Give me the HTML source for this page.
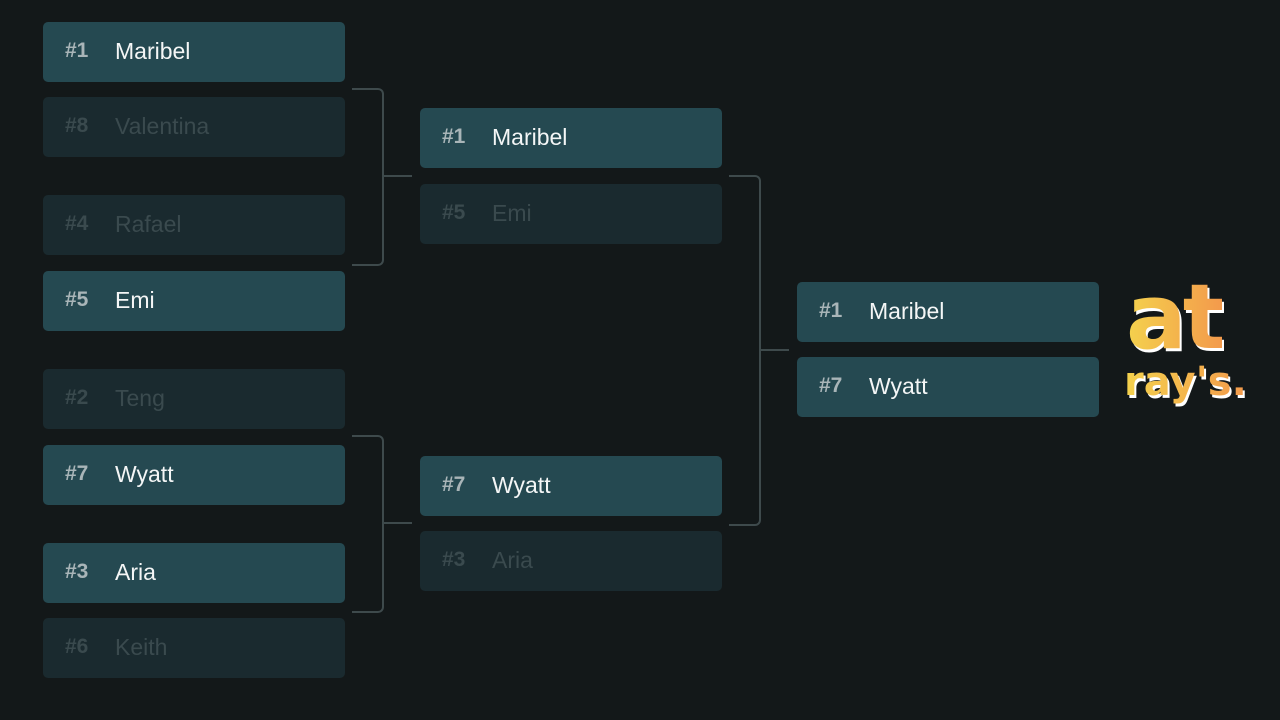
<!DOCTYPE html>
<html><head><style>
body{margin:0;width:1280px;height:720px;background:#131819;position:relative;overflow:hidden;font-family:"Liberation Sans",sans-serif}
.b{position:absolute;width:302px;height:60px;border-radius:5px;background:#254951;box-sizing:border-box;}
.b.d{background:#1a2a2f}
.s{position:absolute;left:22px;top:17px;font-size:21px;color:#a9b5b8;font-weight:bold}
.n{position:absolute;left:72px;top:16px;font-size:23px;color:#f4f6f6}
.d .s{color:#3a4a4e}.d .n{color:#3a4a4e}
.br{position:absolute;border:2px solid #3e4a4c;border-left:none;border-radius:0 6px 6px 0}
.h{position:absolute;height:2px;background:#3e4a4c}
.logo{position:absolute;font-weight:900;font-family:"DejaVu Sans",sans-serif;background:linear-gradient(90deg,#f4d24d,#f39a4c);-webkit-background-clip:text;color:transparent;filter:drop-shadow(2px 3px 0 #fff)}
</style></head><body>
<div class="b" style="left:43px;top:22px"><span class="s">#1</span><span class="n">Maribel</span></div>
<div class="b d" style="left:43px;top:97px"><span class="s">#8</span><span class="n">Valentina</span></div>
<div class="b d" style="left:43px;top:195px"><span class="s">#4</span><span class="n">Rafael</span></div>
<div class="b" style="left:43px;top:271px"><span class="s">#5</span><span class="n">Emi</span></div>
<div class="b d" style="left:43px;top:369px"><span class="s">#2</span><span class="n">Teng</span></div>
<div class="b" style="left:43px;top:445px"><span class="s">#7</span><span class="n">Wyatt</span></div>
<div class="b" style="left:43px;top:543px"><span class="s">#3</span><span class="n">Aria</span></div>
<div class="b d" style="left:43px;top:618px"><span class="s">#6</span><span class="n">Keith</span></div>
<div class="b" style="left:420px;top:108px"><span class="s">#1</span><span class="n">Maribel</span></div>
<div class="b d" style="left:420px;top:184px"><span class="s">#5</span><span class="n">Emi</span></div>
<div class="b" style="left:420px;top:456px"><span class="s">#7</span><span class="n">Wyatt</span></div>
<div class="b d" style="left:420px;top:531px"><span class="s">#3</span><span class="n">Aria</span></div>
<div class="b" style="left:797px;top:282px"><span class="s">#1</span><span class="n">Maribel</span></div>
<div class="b" style="left:797px;top:357px"><span class="s">#7</span><span class="n">Wyatt</span></div>
<div class="br" style="left:352px;top:88px;width:30px;height:174px"></div>
<div class="h" style="left:384px;top:175px;width:28px"></div>
<div class="br" style="left:352px;top:435px;width:30px;height:174px"></div>
<div class="h" style="left:384px;top:522px;width:28px"></div>
<div class="br" style="left:729px;top:175px;width:30px;height:347px"></div>
<div class="h" style="left:761px;top:349px;width:28px"></div>
<div class="logo" style="left:1126px;top:268px;font-size:90px;line-height:100px;letter-spacing:-4px">at</div>
<div class="logo" style="left:1124px;top:360px;font-size:40px;line-height:44px">ray's.</div>
</body></html>
